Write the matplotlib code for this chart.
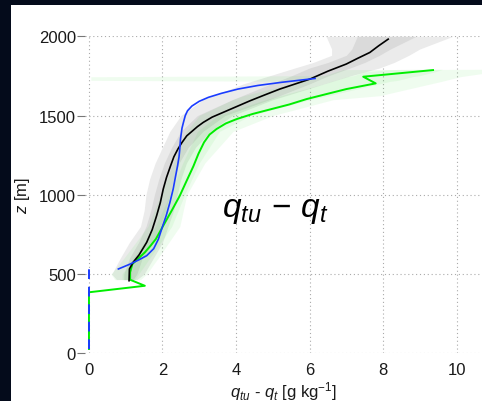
import numpy as np
import matplotlib
matplotlib.use('Agg')
import matplotlib.pyplot as plt
from matplotlib.patches import Rectangle

plt.rcParams['font.family'] = ['Liberation Sans', 'DejaVu Sans']
plt.rcParams['mathtext.fontset'] = 'custom'
plt.rcParams['mathtext.rm'] = 'Liberation Sans'
plt.rcParams['mathtext.it'] = 'Liberation Sans:italic'

# mean profiles (x in g/kg, z in m)
black_z = [458, 532, 574, 620, 700, 780, 868, 950, 1036, 1110, 1183, 1240, 1289, 1330, 1372, 1400, 1430,
           1457, 1490, 1520, 1555, 1593, 1630, 1667, 1730, 1780, 1825, 1860, 1898, 1940, 1982]
black_x = [1.09, 1.10, 1.20, 1.36, 1.57, 1.72, 1.84, 1.94, 2.02, 2.11, 2.22, 2.31, 2.42, 2.53, 2.66, 2.80, 2.95,
           3.11, 3.35, 3.65, 4.00, 4.38, 4.78, 5.19, 6.01, 6.50, 7.00, 7.30, 7.64, 7.88, 8.14]

blue_z = [532, 563, 590, 616, 660, 721, 800, 868, 950, 1036, 1110, 1183, 1240, 1289, 1352, 1420, 1457, 1500,
          1530, 1560, 1590, 1615, 1640, 1667, 1690, 1710, 1734]
blue_x = [0.80, 1.12, 1.36, 1.57, 1.76, 1.89, 2.00, 2.10, 2.20, 2.29, 2.35, 2.41, 2.45, 2.47, 2.49, 2.53, 2.57, 2.62,
          2.68, 2.80, 3.00, 3.25, 3.60, 4.05, 4.60, 5.25, 6.15]
blue_sub_z = [25, 535]
blue_sub_x = [0, 0]

green_z = [27, 385, 426, 464, 511, 563, 600, 637, 680, 721, 805, 900, 994, 1090, 1180, 1260, 1331, 1380, 1415,
           1450, 1478, 1510, 1540, 1570, 1604, 1635, 1667, 1703, 1745, 1787]
green_x = [0, 0, 1.52, 1.12, 1.12, 1.18, 1.35, 1.52, 1.68, 1.82, 2.02, 2.25, 2.47, 2.66, 2.84, 2.98, 3.13, 3.28, 3.47,
           3.72, 4.02, 4.45, 4.95, 5.45, 5.92, 6.45, 7.00, 7.80, 7.46, 9.36]

# spread of the ensemble (gray around black, green around green)
gband_z = [465, 500, 600, 700, 800, 900, 1000, 1100, 1200, 1300, 1400, 1500, 1600, 1700, 1750, 1800, 1835, 1880, 1920, 2000]
gray_out_lo = [0.75, 0.62, 0.85, 1.10, 1.40, 1.50, 1.55, 1.65, 1.80, 2.00, 2.20, 2.50, 3.10, 4.20, 4.90, 5.60, 6.10, 6.60, 6.60, 6.45]
gray_out_hi = [1.30, 1.50, 1.75, 2.00, 2.15, 2.30, 2.40, 2.50, 2.65, 2.90, 3.30, 3.90, 5.00, 6.40, 7.10, 7.90, 8.30, 8.70, 9.00, 9.90]
gray_in_lo = [0.95, 0.95, 1.10, 1.35, 1.55, 1.68, 1.78, 1.90, 2.05, 2.25, 2.50, 2.95, 3.90, 4.95, 5.50, 6.00, 6.50, 7.00, 7.15, 7.30]
gray_in_hi = [1.20, 1.30, 1.45, 1.75, 1.95, 2.08, 2.20, 2.30, 2.45, 2.70, 3.10, 3.70, 4.90, 6.00, 6.50, 7.10, 7.50, 7.90, 8.20, 8.90]

vband_z = [465, 500, 600, 800, 1000, 1200, 1400, 1500, 1600, 1625, 1700, 1716, 1722, 1745, 1752, 1775, 1790, 1792]
green_out_lo = [0.70, 0.60, 0.95, 1.60, 1.95, 2.30, 2.65, 3.00, 3.90, 4.20, 5.50, 5.70, 0.05, 0.05, 6.40, 6.70, 6.90, 11.0]
green_out_hi = [1.40, 1.57, 1.88, 2.47, 2.66, 3.15, 3.92, 5.00, 6.64, 7.90, 9.30, 9.60, 9.70, 10.1, 10.3, 11.0, 11.0, 11.0]
green_in_lo = [0.90, 0.90, 1.20, 1.80, 2.20, 2.55, 2.95, 3.50, 4.80, 5.20, 6.40, 6.60, 6.70, 7.00, 7.20, 7.50, 8.20, 9.00]
green_in_hi = [1.25, 1.35, 1.65, 2.25, 2.60, 3.00, 3.55, 4.40, 6.00, 6.50, 7.90, 8.20, 8.40, 8.80, 9.00, 9.40, 9.60, 9.60]

xticks = [0, 2, 4, 6, 8, 10]
yticks = [0, 500, 1000, 1500, 2000]

fig = plt.figure(figsize=(4.82, 4.02), dpi=100)
fig.patch.set_facecolor('#040b1b')
panel = Rectangle((11 / 482, 0), 1, 1 - 6 / 402, transform=fig.transFigure,
                  facecolor='white', edgecolor='none', zorder=-5)
fig.add_artist(panel)

ax = fig.add_axes([85.3 / 482, (402 - 354.3) / 402, 397 / 482, 317 / 402])
ax.set_facecolor('white')
ax.set_zorder(1)

ax.fill_betweenx(gband_z, gray_out_lo, gray_out_hi, color='#ebebeb', lw=0, zorder=1)
ax.fill_betweenx(gband_z, gray_in_lo, gray_in_hi, color='#dadada', lw=0, zorder=1)
ax.fill_betweenx(vband_z, green_out_lo, green_out_hi, color='#22dd22', alpha=0.07, lw=0, zorder=2)
ax.fill_betweenx(vband_z, green_in_lo, green_in_hi, color='#22dd22', alpha=0.07, lw=0, zorder=2)

ax.plot(green_x, green_z, color='#00ee00', lw=1.4, zorder=4)
ax.plot(blue_sub_x, blue_sub_z, color='#1a3cff', lw=1.4, ls=(0, (5, 4)), zorder=5)
ax.plot(black_x, black_z, color='black', lw=1.2, zorder=5)
ax.plot(blue_x, blue_z, color='#1a3cff', lw=1.2, zorder=5)

ax.text(5.08, 866, r'$q_{tu}\,-\,q_t$', fontsize=24, ha='center', va='baseline', zorder=6)

ax.set_xlim(-0.1, 10.7)
ax.set_ylim(0, 2000)
ax.set_xticks(xticks)
ax.set_yticks(yticks)
ax.grid(True, ls=(0, (1, 2.5)), color='#aaaaaa', lw=0.8)
ax.set_axisbelow(True)
for s in ax.spines.values():
    s.set_visible(False)
ax.tick_params(axis='y', length=5.8, width=0.8, color='#777777', pad=1, labelsize=12, labelcolor='#1a1a1a')
ax.tick_params(axis='x', length=0, pad=6, labelsize=12, labelcolor='#1a1a1a')

ax.set_xlabel(r'$q_{tu}$ - $q_t$ [g kg$^{-1}$]', fontsize=12, color='#1a1a1a')
ax.xaxis.set_label_coords(0.5, -0.08)
ax.set_ylabel(r'$z$ [m]', fontsize=12, color='#1a1a1a')
ax.yaxis.set_label_coords(-0.135, 0.5)

plt.savefig('out.png', dpi=100, facecolor=fig.get_facecolor())
